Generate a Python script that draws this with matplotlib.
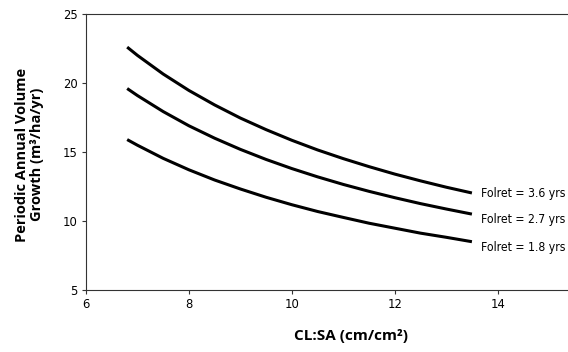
import numpy as np
import matplotlib
matplotlib.use('Agg')
import matplotlib.pyplot as plt

# values
cl_sa = [6.8, 7.0, 7.5, 8.0, 8.5, 9.0, 9.5, 10.0, 10.5, 11.0, 11.5, 12.0, 12.5, 13.0, 13.5]
folret_36 = [22.6, 22.0, 20.65, 19.46, 18.41, 17.46, 16.62, 15.85, 15.15, 14.52, 13.94, 13.40, 12.91, 12.45, 12.03]
folret_27 = [19.6, 19.09, 17.93, 16.9, 16.0, 15.19, 14.46, 13.8, 13.2, 12.65, 12.15, 11.69, 11.26, 10.87, 10.5]
folret_18 = [15.9, 15.49, 14.54, 13.71, 12.97, 12.32, 11.72, 11.18, 10.69, 10.26, 9.84, 9.48, 9.12, 8.82, 8.5]
labels = ['Folret = 3.6 yrs', 'Folret = 2.7 yrs', 'Folret = 1.8 yrs']
label_y = [12.0, 10.1, 8.1]
xticks = [6, 8, 10, 12, 14]
yticks = [5, 10, 15, 20, 25]

fig = plt.figure(figsize=(5.68, 3.52), dpi=100)
ax = fig.add_axes([86/568, 1-290/352, 530/568, 276/352])

for ys in (folret_36, folret_27, folret_18):
    ax.plot(cl_sa, ys, color='black', lw=2.2, solid_capstyle='butt')

cond = dict(family='DejaVu Sans', stretch='condensed')
for lab, yy in zip(labels, label_y):
    ax.text(13.68, yy, lab, va='center', ha='left', fontsize=8.7, **cond)

ax.set_xlim(6, 16.3)
ax.set_ylim(5, 25)
ax.set_xticks(xticks)
ax.set_yticks(yticks)
ax.set_xticklabels([str(t) for t in xticks], fontsize=9.3, **cond)
ax.set_yticklabels([str(t) for t in yticks], fontsize=9.3, **cond)
ax.tick_params(direction='out', length=3, width=0.8, color='#333333', pad=3)
for s in ['left', 'bottom', 'top']:
    ax.spines[s].set_color('#333333')
    ax.spines[s].set_linewidth(0.8)
ax.spines['right'].set_visible(False)

ax.set_xlabel('CL:SA (cm/cm²)', fontsize=11, fontweight='bold', family='Open Sans', labelpad=13)
ax.set_ylabel('Periodic Annual Volume\nGrowth (m³/ha/yr)', fontsize=10.5, fontweight='bold',
              family='Open Sans', linespacing=1.1)
ax.yaxis.set_label_coords(-0.08, 0.49)

fig.savefig('out.png', dpi=100)
